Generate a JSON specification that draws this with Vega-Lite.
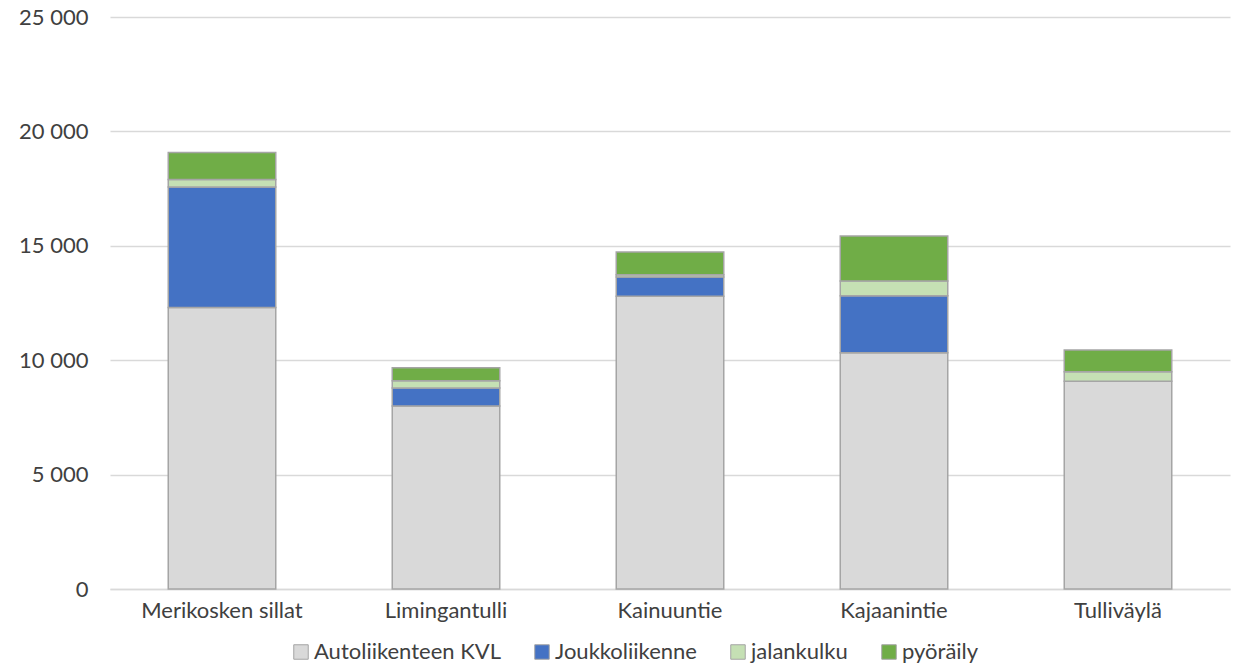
{
  "$schema": "https://vega.github.io/schema/vega-lite/v6.json",
  "width": 1120,
  "height": 572,
  "autosize": {"type": "none"},
  "padding": {"left": 110, "top": 17, "right": 8, "bottom": 74},
  "background": "white",
  "config": {
    "font": "Lato",
    "view": {"stroke": null}
  },
  "data": {
    "values": [
      {"paikka": "Merikosken sillat", "kulku": "Autoliikenteen KVL", "o": 1, "arvo": 12300},
      {"paikka": "Merikosken sillat", "kulku": "Joukkoliikenne", "o": 2, "arvo": 5270},
      {"paikka": "Merikosken sillat", "kulku": "jalankulku", "o": 3, "arvo": 330},
      {"paikka": "Merikosken sillat", "kulku": "pyöräily", "o": 4, "arvo": 1180},
      {"paikka": "Limingantulli", "kulku": "Autoliikenteen KVL", "o": 1, "arvo": 8000},
      {"paikka": "Limingantulli", "kulku": "Joukkoliikenne", "o": 2, "arvo": 780},
      {"paikka": "Limingantulli", "kulku": "jalankulku", "o": 3, "arvo": 320},
      {"paikka": "Limingantulli", "kulku": "pyöräily", "o": 4, "arvo": 570},
      {"paikka": "Kainuuntie", "kulku": "Autoliikenteen KVL", "o": 1, "arvo": 12800},
      {"paikka": "Kainuuntie", "kulku": "Joukkoliikenne", "o": 2, "arvo": 840},
      {"paikka": "Kainuuntie", "kulku": "jalankulku", "o": 3, "arvo": 100},
      {"paikka": "Kainuuntie", "kulku": "pyöräily", "o": 4, "arvo": 990},
      {"paikka": "Kajaanintie", "kulku": "Autoliikenteen KVL", "o": 1, "arvo": 10330},
      {"paikka": "Kajaanintie", "kulku": "Joukkoliikenne", "o": 2, "arvo": 2490},
      {"paikka": "Kajaanintie", "kulku": "jalankulku", "o": 3, "arvo": 640},
      {"paikka": "Kajaanintie", "kulku": "pyöräily", "o": 4, "arvo": 1970},
      {"paikka": "Tulliväylä", "kulku": "Autoliikenteen KVL", "o": 1, "arvo": 9080},
      {"paikka": "Tulliväylä", "kulku": "Joukkoliikenne", "o": 2, "arvo": 0},
      {"paikka": "Tulliväylä", "kulku": "jalankulku", "o": 3, "arvo": 420},
      {"paikka": "Tulliväylä", "kulku": "pyöräily", "o": 4, "arvo": 950}
    ]
  },
  "mark": {"type": "bar", "stroke": "#a5a5a5", "strokeWidth": 1.5},
  "encoding": {
    "x": {
      "field": "paikka",
      "type": "nominal",
      "sort": null,
      "scale": {"paddingInner": 0.52, "paddingOuter": 0.26},
      "axis": {
        "title": null,
        "labelAngle": 0,
        "labelFontSize": 22,
        "labelColor": "#404040",
        "labelPadding": 11,
        "labelLimit": 400,
        "ticks": false,
        "domain": true,
        "domainColor": "#d9d9d9",
        "domainWidth": 1.5
      }
    },
    "y": {
      "field": "arvo",
      "type": "quantitative",
      "stack": "zero",
      "scale": {"domain": [0, 25000], "nice": false},
      "axis": {
        "title": null,
        "values": [0, 5000, 10000, 15000, 20000, 25000],
        "labelExpr": "replace(format(datum.value, ','), /,/g, ' ')",
        "labelFontSize": 22,
        "labelColor": "#404040",
        "labelPadding": 22,
        "ticks": false,
        "domain": false,
        "gridColor": "#d9d9d9",
        "gridWidth": 1.5
      }
    },
    "color": {
      "field": "kulku",
      "type": "nominal",
      "scale": {
        "domain": ["Autoliikenteen KVL", "Joukkoliikenne", "jalankulku", "pyöräily"],
        "range": ["#d9d9d9", "#4472c4", "#c5e0b4", "#70ad47"]
      },
      "legend": {
        "title": null,
        "orient": "none",
        "direction": "horizontal",
        "legendX": 180,
        "legendY": 624,
        "symbolType": "square",
        "symbolSize": 210,
        "symbolStrokeColor": "#a5a5a5",
        "symbolStrokeWidth": 1,
        "labelFontSize": 22,
        "labelLimit": 400,
        "labelColor": "#404040",
        "labelOffset": 2,
        "columnPadding": 30
      }
    },
    "order": {"field": "o", "type": "quantitative", "sort": "ascending"}
  }
}
